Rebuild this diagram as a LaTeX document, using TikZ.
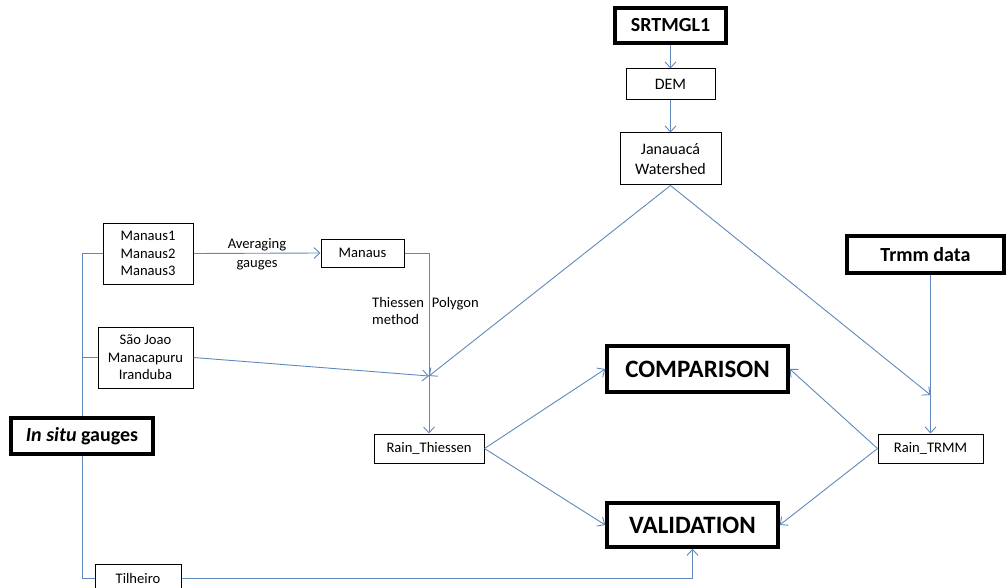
\documentclass[tikz,border=0pt]{standalone}
\usepackage{fontspec}
\setmainfont{Carlito}
\usetikzlibrary{arrows.meta}
\definecolor{linkblue}{RGB}{96,136,188}
\tikzset{
  box/.style={draw=black, line width=1pt, inner sep=2pt, align=center,
    font=\fontsize{14.6}{17.5}\selectfont},
  bigbox/.style={draw=black, line width=3.5pt, inner sep=2pt,
    font=\bfseries\fontsize{20}{24}\selectfont},
  hugebox/.style={bigbox, font=\bfseries\fontsize{25}{30}\selectfont},
  note/.style={align=left, inner sep=0pt, font=\fontsize{14.6}{17.5}\selectfont},
  link/.style={draw=linkblue, line width=0.9pt},
  >={Straight Barb[length=6pt,width=11pt]}
}
\begin{document}
\begin{tikzpicture}[x=1pt,y=-1pt]
      \useasboundingbox (0,0) rectangle (1006,588);
      \clip (0,0) rectangle (1006,588);
      \draw
        (670.5,25.5) node[bigbox, minimum width=111pt, minimum height=35pt] (srtm){SRTMGL1}
        (670.5,84.5) node[box, minimum width=89pt, minimum height=31pt, font=\fontsize{16}{20}\selectfont] (dem){DEM}
        (670.5,159) node[box, minimum width=101pt, minimum height=52pt, font=\fontsize{16}{20}\selectfont] (jan){Janauacá\\Watershed}
        (148,253.5) node[box, minimum width=90pt, minimum height=61pt] (man123){Manaus1\\Manaus2\\Manaus3}
        (362.5,253) node[box, minimum width=83pt, minimum height=28pt] (manaus){Manaus}
        (145.5,357.5) node[box, minimum width=95pt, minimum height=61pt] (saojoao){São Joao\\Manacapuru\\Iranduba}
        (82,436) node[bigbox, minimum width=142pt, minimum height=36pt] (insitu){\textit{In situ} gauges}
        (138,578) node[box, minimum width=86pt, minimum height=28pt] (tilheiro){Tilheiro}
        (429,448.5) node[box, minimum width=110pt, minimum height=29pt] (rthiessen){Rain\_Thiessen}
        (697.5,369) node[hugebox, minimum width=181pt, minimum height=46pt] (comparison){COMPARISON}
        (692.5,525) node[hugebox, minimum width=171pt, minimum height=44pt] (validation){VALIDATION}
        (925.5,254.5) node[bigbox, minimum width=157pt, minimum height=37pt] (trmm){Trmm data}
        (930.5,448.5) node[box, minimum width=105pt, minimum height=29pt] (rtrmm){Rain\_TRMM};
      \coordinate (merge) at (429,376);
      \coordinate (tmerge) at (930.5,395);
      % gauges bus on the left
      \begin{scope}[link]
        \draw (man123.west) -| (insitu.north);
        \draw (saojoao.west) -- (saojoao.west -| insitu.north);
        \draw (insitu.south) |- (tilheiro.west);
      \end{scope}
      \begin{scope}[link,->]
        \draw (srtm) to (dem);
        \draw (dem) to (jan);
        \draw (man123.east) to (manaus.west);
        \draw (manaus.east) -| (rthiessen.north);
        \draw (saojoao.east) to (merge);
        \draw (jan.south) to (merge);
        \draw (jan.south) to (tmerge);
        \draw (trmm.south -| rtrmm.north) to (rtrmm.north);
        \draw (rthiessen.east) to (comparison.west);
        \draw (rthiessen.east) to (validation.west);
        \draw (rtrmm.west) to (comparison.east);
        \draw (rtrmm.west) to (validation.east);
        \draw (tilheiro.east) -| (validation.south);
      \end{scope}
      \node[note, align=center] at (257,254.5) {Averaging\\[1.5pt]gauges};
      \node[note, anchor=west] at (372,311) {Thiessen\hspace{8pt}Polygon\\method};
    \end{tikzpicture}
\end{document}
